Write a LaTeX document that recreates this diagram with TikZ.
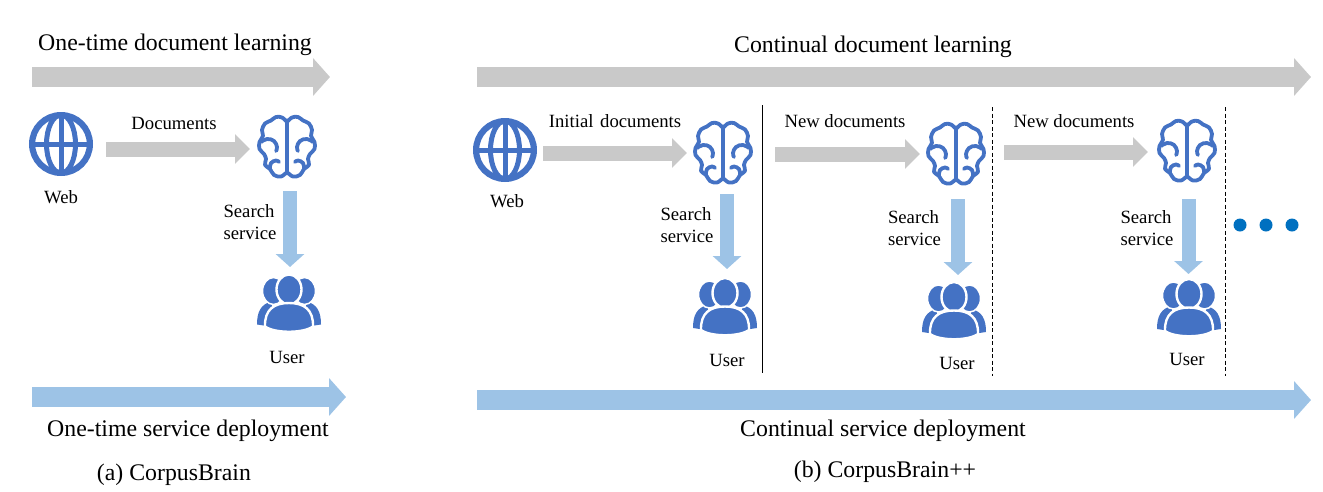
\documentclass[tikz,border=0pt]{standalone}
\usepackage{fontspec}
\setmainfont{Liberation Serif}
\usetikzlibrary{arrows.meta}

\definecolor{iconblue}{HTML}{4472C4}
\definecolor{flowgray}{HTML}{C9C9C9}
\definecolor{flowblue}{HTML}{9DC3E6}
\definecolor{dotblue}{HTML}{0070C0}

\tikzset{
  biglabel/.style={inner sep=0pt,font=\fontsize{23.8}{28}\selectfont},
  smalllabel/.style={inner sep=0pt,align=left,font=\fontsize{18.7}{22}\selectfont},
  iconbox/.style={inner sep=0pt,outer sep=0pt,minimum width=60pt,minimum height=60pt},
  grayband/.style={line width=20pt,flowgray,-{Triangle[length=17pt,width=37pt]}},
  blueband/.style={line width=20pt,flowblue,-{Triangle[length=17pt,width=37pt]}},
  grayflow/.style={line width=15pt,flowgray,-{Triangle[length=15pt,width=29pt]}},
  blueflow/.style={line width=14pt,flowblue,-{Triangle[length=13pt,width=28pt]}},
  pics/globeicon/.style={code={
    \draw[iconblue,line width=6.2pt] (0,0) circle (28.9);
    \draw[iconblue,line width=5pt] (0,0) ellipse (14.5 and 29);
    \draw[iconblue,line width=5pt] (0,-29)--(0,29);
    \draw[iconblue,line width=5pt] (-29,0)--(29,0);
  }},
  pics/brainicon/.style={code={
    \draw[iconblue,line width=3.8pt,line cap=round] (0,-26)--(0,26);
    \foreach \side in {-1,1}{
      \begin{scope}[xscale=\side,iconblue,line width=3.8pt,line cap=round,line join=round]
        \draw plot[smooth,tension=0.6] coordinates {(0,-25) (-5,-29.5) (-11,-30) (-16,-26.5) (-22,-23.5) (-25,-17) (-24,-11) (-27.5,-5) (-27.5,2) (-23,7) (-21,12) (-22,18) (-17,22) (-13,28) (-6,29.5) (0,25)};
        \draw plot[smooth,tension=0.7] coordinates {(-26,-5) (-20,-8) (-13,-6) (-10,0) (-11,4)};
        \draw plot[smooth,tension=0.7] coordinates {(-17,21) (-16,16) (-11,13.5) (-8,15)};
      \end{scope}
    }
  }},
  pics/usersicon/.style={code={
    \foreach \side in {-1,1}{
      \begin{scope}[xscale=\side]
        \fill[iconblue] (-32,21) .. controls (-32,8) and (-28,1) .. (-18,-2) -- (-12,24) -- cycle;
        \draw[iconblue,fill=iconblue,draw=white,line width=1.5pt] (-15.5,-12.5) ellipse (11 and 13.5);
      \end{scope}
    }
    \draw[fill=iconblue,draw=white,line width=2.4pt] (0,-14) ellipse (12.5 and 15);
    \draw[fill=iconblue,draw=white,line width=2.4pt] (-24,23) .. controls (-24.5,6) and (-15,-0.5) .. (0,-0.5) .. controls (15,-0.5) and (24.5,6) .. (24,23) .. controls (14,30) and (-14,30) .. (-24,23) -- cycle;
  }},
}

\begin{document}
\begin{tikzpicture}[x=1pt,y=-1pt]

  \useasboundingbox (0,0) rectangle (1323,491);

  \coordinate (learnA) at (32,77);
  \coordinate (learnAend) at (330,77);
  \coordinate (serveA) at (32,397);
  \coordinate (serveAend) at (346,397);
  \coordinate (learnB) at (477,77);
  \coordinate (learnBend) at (1311,77);
  \coordinate (serveB) at (477,400);
  \coordinate (serveBend) at (1311,400);

  \draw[grayband] (learnA)--(learnAend);
  \draw[blueband] (serveA)--(serveAend);
  \draw[grayband] (learnB)--(learnBend);
  \draw[blueband] (serveB)--(serveBend);

  \node[biglabel] at (175,45) (learnAtext) {One-time document learning};
  \node[biglabel] at (188,431) (serveAtext) {One-time service deployment};
  \node[biglabel] at (174,475) (captionA) {(a) CorpusBrain};
  \node[biglabel] at (873,47) (learnBtext) {Continual document learning};
  \node[biglabel] at (883,431) (serveBtext) {Continual service deployment};
  \node[biglabel] at (885,472) (captionB) {(b) CorpusBrain++};

  \node[iconbox] at (61,144) (web1) {};
  \node[iconbox] at (287,147) (brain1) {};
  \node[iconbox] at (289,303.5) (user1) {};
  \pic at (web1) {globeicon};
  \pic at (brain1) {brainicon};
  \pic at (user1) {usersicon};
  \draw[grayflow] ([xshift=15pt,yshift=-5pt]web1.east)--([xshift=-7pt,yshift=-2pt]brain1.west);
  \draw[blueflow] ([xshift=3pt,yshift=-14pt]brain1.south)--([xshift=1pt,yshift=6.5pt]user1.north);
  \node[smalllabel] at (174,123) (docs1) {Documents};
  \node[smalllabel] at (61,197) (webtext1) {Web};
  \node[smalllabel] at (250,222) (search1) {Search\\service};
  \node[smalllabel] at (287,357) (usertext1) {User};

  \node[iconbox] at (505,150) (web2) {};
  \node[iconbox] at (723,153) (brain2) {};
  \node[iconbox] at (725,307) (user2) {};
  \pic at (web2) {globeicon};
  \pic at (brain2) {brainicon};
  \pic at (user2) {usersicon};
  \draw[grayflow] ([xshift=8pt,yshift=-3pt]web2.east)--([xshift=-6pt]brain2.west);
  \draw[blueflow] ([xshift=4pt,yshift=-11pt]brain2.south)--([xshift=2pt,yshift=8pt]user2.north);
  \node[smalllabel] at (615,121) (docs2) {Initial\hspace{2pt} documents};
  \node[smalllabel] at (507,201) (webtext2) {Web};
  \node[smalllabel] at (687,225) (search2) {Search\\service};
  \node[smalllabel] at (727,360) (usertext2) {User};

  \coordinate (solidtop) at (762,105);
  \coordinate (solidend) at (762,373);
  \draw[line width=1pt] (solidtop)--(solidend);

  \node[iconbox] at (956,154) (brain3) {};
  \node[iconbox] at (954,311) (user3) {};
  \coordinate (start3) at (775,154);
  \pic at (brain3) {brainicon};
  \pic at (user3) {usersicon};
  \draw[grayflow] (start3)--([xshift=-6pt]brain3.west);
  \draw[blueflow] ([xshift=2pt,yshift=-15pt]brain3.south)--([xshift=4pt,yshift=6pt]user3.north);
  \node[smalllabel] at (845,121) (docs3) {New documents};
  \node[smalllabel] at (914.5,228) (search3) {Search\\service};
  \node[smalllabel] at (957,363) (usertext3) {User};

  \coordinate (dashtop1) at (992,107);
  \coordinate (dashend1) at (992,376);
  \draw[line width=1pt,dash pattern=on 4pt off 2.5pt] (dashtop1)--(dashend1);

  \node[iconbox] at (1187,151) (brain4) {};
  \node[iconbox] at (1189,308) (user4) {};
  \coordinate (start4) at (1004,152);
  \pic at (brain4) {brainicon};
  \pic at (user4) {usersicon};
  \draw[grayflow] (start4)--([xshift=-9pt,yshift=-1pt]brain4.west);
  \draw[blueflow] ([xshift=1.5pt,yshift=-18pt]brain4.south)--([xshift=-0.5pt,yshift=4pt]user4.north);
  \node[smalllabel] at (1074,121) (docs4) {New documents};
  \node[smalllabel] at (1147,228) (search4) {Search\\service};
  \node[smalllabel] at (1187,359) (usertext4) {User};

  \coordinate (dashtop2) at (1225,107);
  \coordinate (dashend2) at (1225,376);
  \draw[line width=1pt,dash pattern=on 4pt off 2.5pt] (dashtop2)--(dashend2);

  \fill[dotblue] (1240,225) circle (6.5);
  \fill[dotblue] (1266,225) circle (6.5);
  \fill[dotblue] (1292,225) circle (6.5);

\end{tikzpicture}
\end{document}
